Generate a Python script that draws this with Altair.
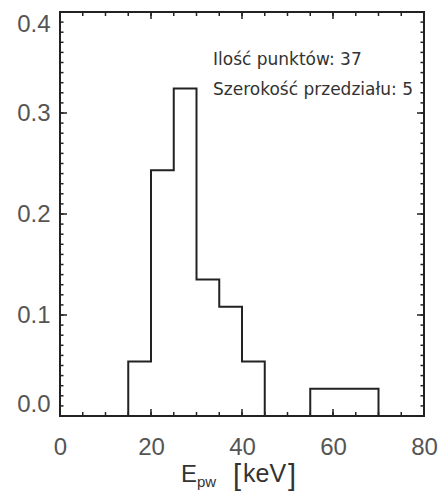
import altair as alt
import pandas as pd
import numpy as np

# ---- data ----
bin_left = [15, 20, 25, 30, 35, 40, 45, 50, 55, 60, 65]
counts = [2, 9, 12, 5, 4, 2, 0, 0, 1, 1, 1]
n_total = 37
bin_width = 5
x_ticks_major = [0, 20, 40, 60, 80]
y_ticks_major = [0.0, 0.1, 0.2, 0.3, 0.4]
annotation_lines = ["Ilość punktów: 37", "Szerokość przedziału: 5"]

# ---- derived table for step outline ----
frac = [c / n_total for c in counts]
xs = [bin_left[0]] + bin_left + [bin_left[-1] + bin_width]
ys = [0.0] + frac + [0.0]
hist = pd.DataFrame({"i": range(len(xs)), "x": xs, "y": ys})

W, H = 364, 404
XD, YD = [0, 80], [0, 0.4]
INK = "#222222"
LAB = "#555555"

xs_scale = alt.Scale(domain=XD, nice=False, zero=False)
ys_scale = alt.Scale(domain=YD, nice=False, zero=False)

x_axis = alt.Axis(
    values=x_ticks_major, format="d", title=None, ticks=False, tickSize=0,
    domain=False, grid=False, labelFont="Liberation Sans", labelFontSize=24,
    labelColor=LAB, labelPadding=19, labelFlush=False)
y_axis = alt.Axis(
    values=y_ticks_major, format=".1f", title=None, ticks=False, tickSize=0,
    domain=False, grid=False, labelFont="Liberation Sans", labelFontSize=24,
    labelColor=LAB, labelPadding=10, labelFlush=True, labelFlushOffset=0)

line = alt.Chart(hist).mark_line(
    interpolate="step-after", color=INK, strokeWidth=2
).encode(
    x=alt.X("x:Q", scale=xs_scale, axis=x_axis),
    y=alt.Y("y:Q", scale=ys_scale, axis=y_axis),
    order="i:Q",
)

minor_x = pd.DataFrame({"v": list(range(0, 81, 5))})
major_x = pd.DataFrame({"v": x_ticks_major})
minor_y = pd.DataFrame({"v": [round(v, 2) for v in np.arange(0, 0.4001, 0.01)]})
major_y = pd.DataFrame({"v": y_ticks_major})


def xticks(df, L):
    base = alt.Chart(df).mark_rule(color=INK, strokeWidth=1.5)
    xe = alt.X("v:Q", scale=xs_scale, axis=x_axis)
    return [
        base.encode(x=xe, y=alt.value(H), y2=alt.value(H - L)),
        base.encode(x=xe, y=alt.value(0), y2=alt.value(L)),
    ]


def yticks(df, L):
    base = alt.Chart(df).mark_rule(color=INK, strokeWidth=1.5)
    ye = alt.Y("v:Q", scale=ys_scale, axis=y_axis)
    return [
        base.encode(y=ye, x=alt.value(0), x2=alt.value(L)),
        base.encode(y=ye, x=alt.value(W), x2=alt.value(W - L)),
    ]


ticks = xticks(minor_x, 4) + xticks(major_x, 7) + yticks(minor_y, 3.5) + yticks(major_y, 7)

one = alt.Data(values=[{}])


def txt(s, x, y, size, font="DejaVu Sans", color=LAB):
    return alt.Chart(one).mark_text(
        text=s, align="left", baseline="alphabetic", font=font,
        fontSize=size, color=color
    ).encode(x=alt.value(x), y=alt.value(y))


texts = [
    txt(annotation_lines[0], 153, 52.5, 17, color="#333333"),
    txt(annotation_lines[1], 153, 82.5, 17, color="#333333"),
    # x-axis title: E_pw [keV]
    txt("E", 121, 470, 24, font="Liberation Sans", color="#333333"),
    txt("pw", 137, 475, 15, font="Liberation Sans", color="#333333"),
    txt("[", 173, 473, 29, font="Liberation Sans", color="#333333"),
    txt("keV", 183, 470, 25, font="Liberation Sans", color="#333333"),
    txt("]", 228, 473, 29, font="Liberation Sans", color="#333333"),
]

chart = alt.layer(line, *ticks, *texts).properties(
    width=W, height=H,
    autosize=alt.AutoSizeParams(type="none"),
    padding={"left": 60, "top": 12, "right": 17, "bottom": 76},
    background="white",
).configure_view(stroke=INK, strokeWidth=2)

chart.save("out.html", embed_options={"renderer": "svg", "actions": False})
